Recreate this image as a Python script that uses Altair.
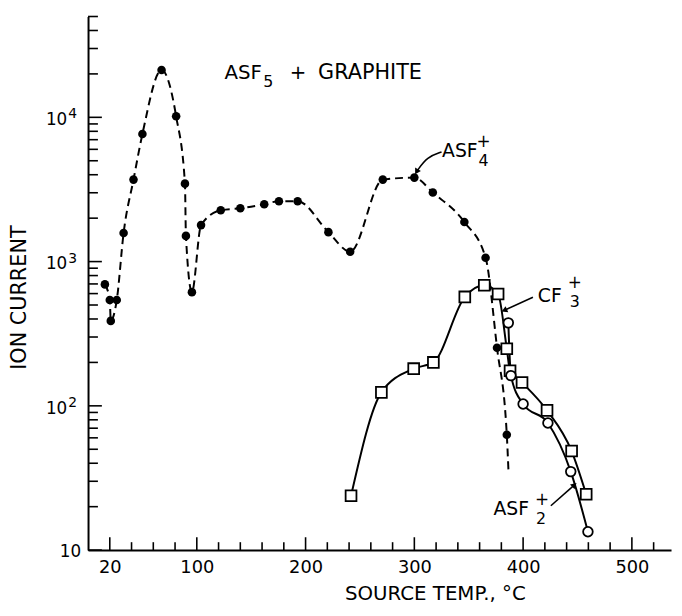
import altair as alt
import pandas as pd

# ---------------- data ----------------
# AsF4+ : filled circles, dashed curve
asf4_t = [15.5, 20.0, 20.9, 26.4, 32.7, 41.8, 50.0, 67.6, 81.0, 89.1, 90.0, 95.5,
          103.9, 122.0, 140.0, 162.0, 175.5, 192.7, 221.0, 241.0, 271.0, 300.0,
          317.0, 346.0, 365.5, 376.0, 385.0]
asf4_i = [695, 541, 388, 541, 1580, 3700, 7660, 21300, 10160, 3470, 1507, 614,
          1790, 2270, 2340, 2500, 2620, 2620, 1600, 1170, 3700, 3820,
          3010, 1880, 1064, 253, 63]
# dashed curve continues below the last point
asf4_tail_t = [386.5]
asf4_tail_i = [36]

# CF3+ : open squares, solid curve
cf3_t = [241.8, 269.7, 299.4, 317.5, 346.4, 364.3, 377.0, 385.0, 388.0, 399.0, 422.0, 444.6, 458.0]
cf3_i = [23.8, 124, 181, 200, 569, 685, 596, 249, 175, 145, 93, 48.6, 24.4]

# AsF2+ : open circles, solid curve
asf2_t = [386.4, 388.8, 400.0, 422.8, 443.8, 459.6]
asf2_i = [376, 162, 103, 76, 35, 13.4]

# axes
x_label_values = [20, 100, 200, 300, 400, 500]
x_minor_ticks = [t for t in range(40, 540, 20) if t not in x_label_values]
y_decades = [100, 1000, 10000]
y_exponents = ["2", "3", "4"]
y_bottom = [10]
y_minor_ticks = [k * d for d in [10, 100, 1000, 10000] for k in range(2, 10) if k * d <= 50000]
x_title = "SOURCE TEMP., °C"
y_title = "ION CURRENT"

# annotations: text, x (°C), y (ion current), size, align
ann_text = ["ASF", "5", "+", "GRAPHITE",
            "ASF", "+", "4",
            "CF", "+", "3",
            "ASF", "+", "2"]
ann_x = [125.5, 165.8, 193.0, 211.5,
         325.5, 363.6, 363.6,
         413.5, 447.5, 447.5,
         372.7, 417.3, 416.4]
ann_y = [20300, 17600, 20300, 20300,
         5850, 6750, 4950,
         576, 706, 520,
         19.1, 22.3, 16.3]
ann_size = [20, 16, 20, 21,
            19, 17, 16,
            19, 17, 16,
            19, 17, 16]
ann_align = ["left", "center", "center", "left",
             "left", "center", "center",
             "left", "center", "center",
             "left", "center", "center"]

# arrows (polyline in data units) and their heads
arrow_id = ["a4", "a4", "a4", "c3", "c3", "a2", "a2"]
arrow_t = [325.0, 311.8, 302.5, 409.0, 383.5, 425.5, 446.5]
arrow_i = [5754, 5321, 4250, 566, 462, 20.3, 28.0]
head_t = [302.5, 383.5, 446.5]
head_i = [4250, 462, 28.0]
head_angle = [210, 246, 47]

# ---------------- chart ----------------
W, H = 590, 540
FONT = "DejaVu Sans"
xs = alt.Scale(domain=[0, 536], nice=False, zero=False)
ys = alt.Scale(type="log", domain=[10, 50000], nice=False)

xaxis = alt.Axis(values=x_label_values, ticks=False, grid=False, domainColor="black",
                 domainWidth=2, labelFont=FONT, labelFontSize=18, labelColor="black",
                 labelPadding=9, titleFont=FONT, titleFontSize=20, titleFontWeight="normal",
                 titleColor="black", titleX=351, titleY=44, titleAlign="center",
                 titleBaseline="middle")
yaxis = alt.Axis(values=[10, 100, 1000, 10000], labels=False, ticks=False, grid=False,
                 domainColor="black", domainWidth=2, titleFont=FONT, titleFontSize=21,
                 titleFontWeight="normal", titleColor="black", titleAngle=270, titleX=-69,
                 titleY=284, titleAlign="center", titleBaseline="middle")


def X():
    return alt.X("t:Q", scale=xs, axis=xaxis, title=x_title)


def Y():
    return alt.Y("i:Q", scale=ys, axis=yaxis, title=y_title)


asf4_df = pd.DataFrame({"t": asf4_t, "i": asf4_i})
asf4_line_df = pd.DataFrame({"t": asf4_t + asf4_tail_t, "i": asf4_i + asf4_tail_i})
cf3_df = pd.DataFrame({"t": cf3_t, "i": cf3_i})
asf2_df = pd.DataFrame({"t": asf2_t, "i": asf2_i})
ann_df = pd.DataFrame({"text": ann_text, "t": ann_x, "i": ann_y, "size": ann_size, "align": ann_align})
arrow_df = pd.DataFrame({"id": arrow_id, "t": arrow_t, "i": arrow_i, "o": list(range(len(arrow_t)))})
head_df = pd.DataFrame({"t": head_t, "i": head_i, "angle": head_angle})
dec_df = pd.DataFrame({"i": y_decades, "base": ["10"] * len(y_decades), "exp": y_exponents})
bot_df = pd.DataFrame({"i": y_bottom, "base": ["10"]})

# inward ticks
xmaj = alt.Chart(pd.DataFrame({"t": x_label_values})).mark_rule(color="black", strokeWidth=1.6).encode(
    x=X(), y=alt.value(H), y2=alt.value(H - 13))
xmin = alt.Chart(pd.DataFrame({"t": x_minor_ticks})).mark_rule(color="black", strokeWidth=1.6).encode(
    x=X(), y=alt.value(H), y2=alt.value(H - 8))
ymaj = alt.Chart(pd.DataFrame({"i": [10, 100, 1000, 10000]})).mark_rule(color="black", strokeWidth=1.6).encode(
    y=Y(), x=alt.value(0), x2=alt.value(14))
ymin = alt.Chart(pd.DataFrame({"i": y_minor_ticks})).mark_rule(color="black", strokeWidth=1.6).encode(
    y=Y(), x=alt.value(0), x2=alt.value(10))

# y tick labels: 10 with a raised exponent
ylab_base = alt.Chart(dec_df).mark_text(font=FONT, fontSize=17, align="right", baseline="middle",
                                        dy=3, color="black").encode(
    y=Y(), x=alt.value(-21), text="base:N")
ylab_exp = alt.Chart(dec_df).mark_text(font=FONT, fontSize=14, align="left", baseline="middle",
                                       dy=-3, color="black").encode(
    y=Y(), x=alt.value(-20), text="exp:N")
ylab_bot = alt.Chart(bot_df).mark_text(font=FONT, fontSize=17, align="right", baseline="middle",
                                       dy=2, color="black").encode(
    y=Y(), x=alt.value(-7), text="base:N")

asf4_line = alt.Chart(asf4_line_df).mark_line(
    color="black", strokeWidth=2, strokeDash=[8, 5], interpolate="monotone").encode(x=X(), y=Y())
asf4_pts = alt.Chart(asf4_df).mark_point(
    shape="circle", filled=True, color="black", size=75, opacity=1).encode(x=X(), y=Y())

cf3_line = alt.Chart(cf3_df).mark_line(color="black", strokeWidth=2, interpolate="monotone").encode(x=X(), y=Y())
asf2_line = alt.Chart(asf2_df).mark_line(color="black", strokeWidth=2, interpolate="monotone").encode(x=X(), y=Y())
cf3_pts = alt.Chart(cf3_df).mark_point(
    shape="square", filled=True, fill="white", stroke="black", strokeWidth=1.8, size=120, opacity=1
).encode(x=X(), y=Y())
asf2_pts = alt.Chart(asf2_df).mark_point(
    shape="circle", filled=True, fill="white", stroke="black", strokeWidth=1.8, size=95, opacity=1
).encode(x=X(), y=Y())

ann_layers = []
for al in ["left", "center"]:
    for sz in sorted(set(ann_size)):
        sub = ann_df[(ann_df["align"] == al) & (ann_df["size"] == sz)]
        if len(sub) == 0:
            continue
        ann_layers.append(
            alt.Chart(sub).mark_text(font=FONT, fontSize=sz, align=al, baseline="middle",
                                     color="black", fill="black")
            .encode(x=X(), y=Y(), text="text:N"))

arrows = alt.Chart(arrow_df).mark_line(color="black", strokeWidth=1.6, interpolate="basis").encode(
    x=X(), y=Y(), detail="id:N", order="o:Q")
heads = alt.Chart(head_df).mark_point(shape="triangle", filled=True, color="black", size=45, opacity=1).encode(
    x=X(), y=Y(), angle=alt.Angle("angle:Q", scale=None))

chart = alt.layer(
    xmaj, xmin, ymaj, ymin, ylab_base, ylab_exp, ylab_bot,
    asf4_line, asf4_pts, cf3_line, asf2_line, cf3_pts, asf2_pts,
    arrows, heads, *ann_layers
).properties(
    width=W, height=H,
    autosize=alt.AutoSizeParams(type="none"),
    padding={"left": 81, "top": 5, "right": 3, "bottom": 55},
    background="white",
).configure_view(stroke=None)

chart.save("out.html", embed_options={"renderer": "svg", "actions": False})
